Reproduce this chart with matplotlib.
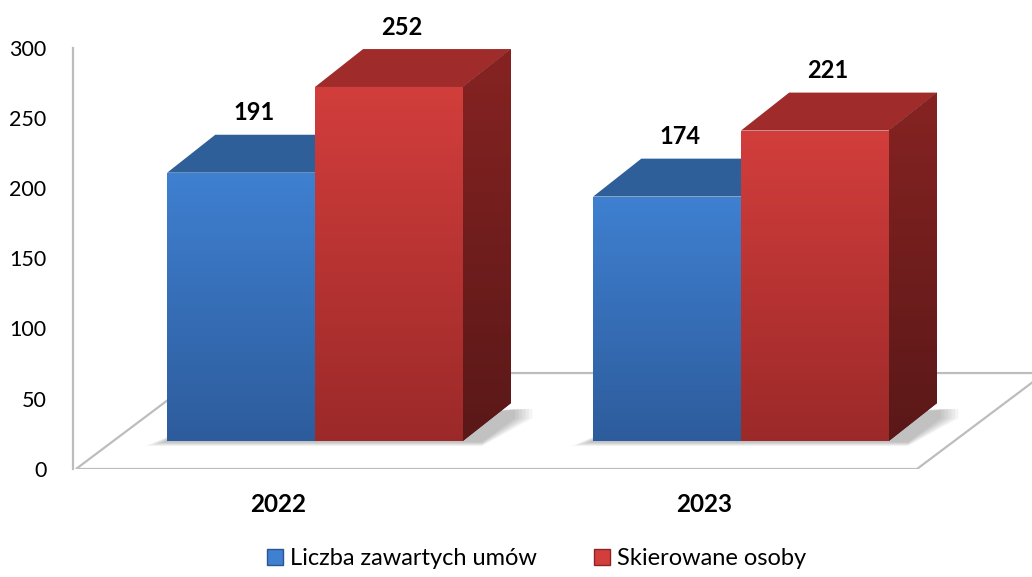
import numpy as np
import matplotlib
matplotlib.use("Agg")
import matplotlib.pyplot as plt
from matplotlib.patches import Polygon, Patch
from matplotlib.colors import LinearSegmentedColormap

years = ["2022", "2023"]
umowy = [191, 174]
osoby = [252, 221]
series_names = ["Liczba zawartych umów", "Skierowane osoby"]

plt.rcParams["font.family"] = ["Lato", "DejaVu Sans"]

# pseudo-3D geometry (in data units)
bar_w = 0.347
front = (0.087, 19.9)    # bar front plane offset from the floor front edge
depth = (0.113, 27.0)    # bar depth
floor_depth = (0.300, 68.3)
floor_x = (-0.474, 1.500)

blue = dict(top="#3f80d1", bot="#2d5c9c", cap="#2e5f98", side_top="#244d80", side_bot="#1b3a62", edge="#2a5590")
red = dict(top="#d23e3c", bot="#9c2929", cap="#9f2c2b", side_top="#862322", side_bot="#5a1818", edge="#8c2424")

fig = plt.figure(figsize=(10.32, 5.77), dpi=100)
ax = fig.add_axes([73 / 1032, 108 / 577, 959 / 1032, 421.5 / 577])


def grad(patch, c_top, c_bot, z):
    if isinstance(patch, Polygon):
        pts = patch.get_xy()
        x0, x1 = pts[:, 0].min(), pts[:, 0].max()
        y0, y1 = pts[:, 1].min(), pts[:, 1].max()
    else:
        x0, y0 = patch.get_xy()
        x1, y1 = x0 + patch.get_width(), y0 + patch.get_height()
    cmap = LinearSegmentedColormap.from_list("g", [c_bot, c_top])
    im = ax.imshow(np.linspace(0, 1, 256).reshape(-1, 1), cmap=cmap, origin="lower",
                   extent=[x0, x1, y0, y1], aspect="auto", zorder=z,
                   interpolation="bicubic")
    im.set_clip_path(patch)


# floor
fx0, fx1 = floor_x
floor = Polygon([(fx0, 0), (fx1, 0), (fx1 + floor_depth[0], floor_depth[1]),
                 (fx0 + floor_depth[0], floor_depth[1])], closed=True,
                facecolor="white", edgecolor="#bdbdbd", lw=1.6, zorder=1)
ax.add_patch(floor)

x = np.arange(len(years))

# soft shadows under each group
for xi in x:
    xl = xi + front[0] - bar_w
    xr = xi + front[0] + bar_w
    yb = front[1]
    for k in range(6):
        e = 0.008 * k
        sh = Polygon([(xl - 0.01 - e, yb - 1.0 - 0.5 * k),
                      (xr + depth[0] * 0.4, yb - 1.0 - 0.5 * k),
                      (xr + depth[0] + 0.01 + e, yb + depth[1] * 0.6),
                      (xr + depth[0] + 0.01 + e, yb + depth[1] - 4),
                      (xl + 0.02, yb + 4 + 0.3 * k)],
                     closed=True, facecolor="black", edgecolor="none", alpha=0.045, zorder=2)
        ax.add_patch(sh)

z = 3
for vals, off, col in [(umowy, -bar_w / 2, blue), (osoby, bar_w / 2, red)]:
    bars = ax.bar(x + front[0] + off, vals, bar_w, bottom=front[1],
                  color=col["bot"], edgecolor="none", zorder=z + 2)
    for b, v in zip(bars, vals):
        xl = b.get_x()
        xr = xl + b.get_width()
        yb = b.get_y()
        yt = yb + b.get_height()
        top = Polygon([(xl, yt), (xr, yt), (xr + depth[0], yt + depth[1]),
                       (xl + depth[0], yt + depth[1])], closed=True,
                      facecolor=col["cap"], edgecolor="none", zorder=z)
        ax.add_patch(top)
        side = Polygon([(xr, yb), (xr + depth[0], yb + depth[1]),
                        (xr + depth[0], yt + depth[1]), (xr, yt)], closed=True,
                       facecolor=col["side_bot"], edgecolor="none", zorder=z)
        ax.add_patch(side)
        grad(side, col["side_top"], col["side_bot"], z + 0.5)
        grad(b, col["top"], col["bot"], z + 2.5)
        ax.text(xl + b.get_width() / 2 + 0.03, yt + 42.5, str(v),
                ha="center", va="center", fontsize=17, fontweight="bold")
    z += 4

# year labels under the floor
for xi, yl in zip(x, years):
    ax.text(xi, -25, yl, ha="center", va="center", fontsize=17.5, fontweight="bold")

ax.set_xlim(-0.481, 1.770)
ax.set_ylim(0, 300)
ax.set_yticks(range(0, 301, 50))
ax.set_xticks([])
ax.tick_params(axis="y", length=0, pad=19, labelsize=15.5)
for s in ["top", "right", "bottom"]:
    ax.spines[s].set_visible(False)
ax.spines["left"].set_color("#bdbdbd")
ax.spines["left"].set_linewidth(1.6)
ax.spines["left"].set_zorder(1.5)
ax.patch.set_alpha(0)

handles = [Patch(facecolor=blue["top"], edgecolor=blue["edge"]),
           Patch(facecolor=red["top"], edgecolor=red["edge"])]
fig.legend(handles, series_names, loc="center", bbox_to_anchor=(0.52, 0.032),
           ncol=2, frameon=False, fontsize=17, handlelength=0.68, handleheight=0.68,
           handletextpad=0.3, columnspacing=2.4)

fig.savefig("out.png", dpi=100)
